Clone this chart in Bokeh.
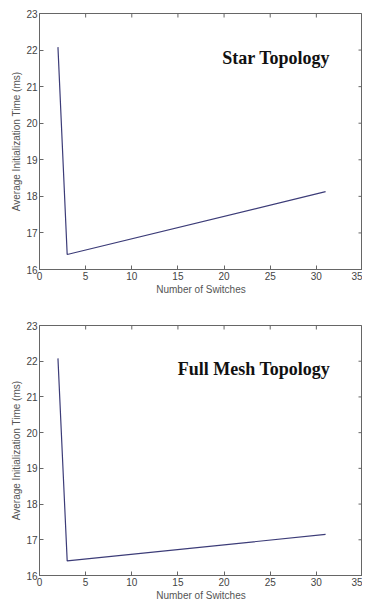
import math
from bokeh.plotting import figure
from bokeh.layouts import column
from bokeh.models import FixedTicker, Range1d, Label
from bokeh.embed import file_html
from bokeh.resources import INLINE

switches = [2, 3, 31]
star_times = [22.08, 16.41, 18.13]
mesh_times = [22.08, 16.41, 17.15]
x_ticks = [0, 5, 10, 15, 20, 25, 30, 35]
y_ticks = [16, 17, 18, 19, 20, 21, 22, 23]
titles = ["Star Topology", "Full Mesh Topology"]

LINE_COLOR = "#3c3c78"
AX_COLOR = "#666666"
TXT_COLOR = "#444444"
X_MIN, X_MAX = 0, 35
Y_MIN, Y_MAX = 16, 23


def make_panel(times, title, height, border_top, border_bottom):
    p = figure(width=362, height=height, output_backend="svg", toolbar_location=None,
               x_range=Range1d(X_MIN, X_MAX), y_range=Range1d(Y_MIN, Y_MAX),
               min_border_left=39, min_border_right=0,
               min_border_top=border_top, min_border_bottom=border_bottom)
    p.grid.visible = False
    p.outline_line_color = AX_COLOR
    p.outline_line_width = 1
    p.background_fill_color = "white"
    p.border_fill_color = "white"

    for ax in p.xaxis + p.yaxis:
        ax.major_tick_in = 4
        ax.major_tick_out = 0
        ax.minor_tick_line_color = None
        ax.axis_line_color = AX_COLOR
        ax.major_tick_line_color = AX_COLOR
        ax.major_label_text_font = "Liberation Sans"
        ax.major_label_text_font_size = "10px"
        ax.major_label_text_color = TXT_COLOR
        ax.axis_label_text_font = "Liberation Sans"
        ax.axis_label_text_font_style = "normal"
        ax.axis_label_text_font_size = "10px"
        ax.axis_label_text_color = "#555555"
        ax.major_label_standoff = 2
        ax.axis_label_standoff = 1
    p.xaxis.ticker = FixedTicker(ticks=x_ticks)
    p.yaxis.ticker = FixedTicker(ticks=y_ticks)
    p.xaxis.axis_label = "Number of Switches"
    p.yaxis.axis_label = "Average Initialization Time (ms)"

    # MATLAB-style box ticks on the top and right edges
    p.ray(x=x_ticks, y=[Y_MAX] * len(x_ticks), length=4, length_units="screen",
          angle=-math.pi / 2, line_color=AX_COLOR, line_width=1)
    p.ray(x=[X_MAX] * len(y_ticks), y=y_ticks, length=4, length_units="screen",
          angle=math.pi, line_color=AX_COLOR, line_width=1)

    p.line(switches, times, line_color=LINE_COLOR, line_width=1.2)

    p.add_layout(Label(x=31.5, y=21.77, text=title, text_align="right",
                       text_baseline="alphabetic", text_font="Liberation Serif",
                       text_font_style="bold", text_font_size="18px",
                       text_color="#111111"))
    return p


p1 = make_panel(star_times, titles[0], 297, 13, 0)
p2 = make_panel(mesh_times, titles[1], 306, 28, 0)
layout = column(p1, p2, spacing=0)

open("out.html", "w").write(file_html(layout, INLINE))
